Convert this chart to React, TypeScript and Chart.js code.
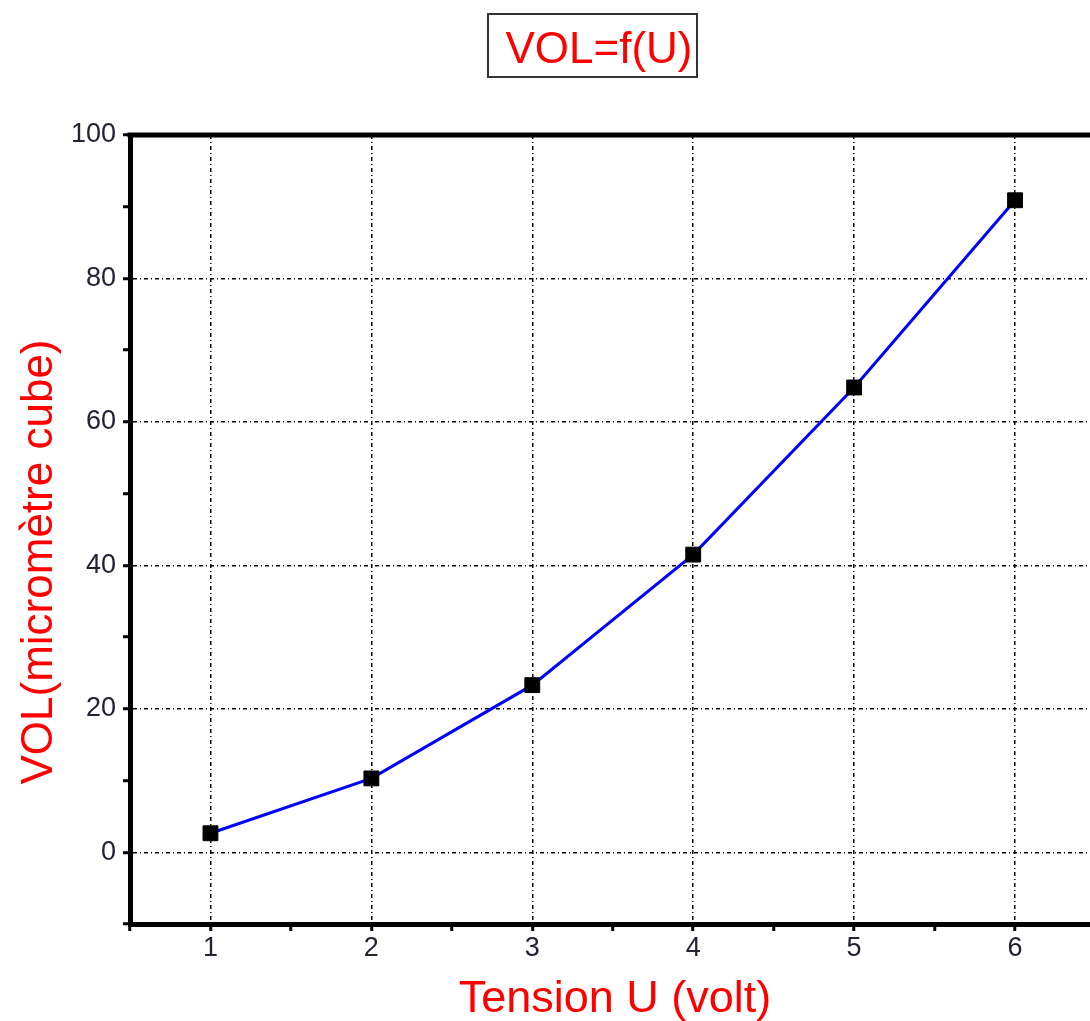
import React, { useEffect, useRef } from "react";
import { Chart, registerables } from "chart.js";

Chart.register(...registerables);

const tensionU = [1, 2, 3, 4, 5, 6];
const volume = [2.65, 10.3, 23.3, 41.5, 64.8, 90.9];
const xTickLabels = ["1", "2", "3", "4", "5", "6"];
const yTickLabels = ["0", "20", "40", "60", "80", "100"];
const chartTitle = "VOL=f(U)";
const xTitle = "Tension U (volt)";
const yTitle = "VOL(micromètre cube)";

const FONT = '"Liberation Sans", Arial, sans-serif';
const LABEL_COLOR = "#222233";
const DASH = [4, 3, 1, 3];

const decorPlugin = {
  id: "decor",
  afterDraw(chart: any) {
    const { ctx, chartArea } = chart;
    ctx.save();
    // top & right frame
    ctx.strokeStyle = "#000";
    ctx.lineWidth = 5;
    ctx.beginPath();
    ctx.moveTo(chartArea.left - 2.5, chartArea.top);
    ctx.lineTo(chartArea.right, chartArea.top);
    ctx.lineTo(chartArea.right, chartArea.bottom);
    ctx.stroke();

    // boxed title
    ctx.fillStyle = "#ff0000";
    ctx.font = `44px ${FONT}`;
    ctx.textAlign = "center";
    ctx.textBaseline = "alphabetic";
    ctx.fillText(chartTitle, 599, 63);
    ctx.strokeStyle = "#333";
    ctx.lineWidth = 2;
    ctx.strokeRect(488, 14, 209, 63);

    // x title
    ctx.font = `45px ${FONT}`;
    ctx.fillText(xTitle, 615, 1012);

    // y title
    ctx.font = `44px ${FONT}`;
    ctx.translate(52, 562);
    ctx.rotate(-Math.PI / 2);
    ctx.fillText(yTitle, 0, 0);
    ctx.restore();
  },
};

export default function App() {
  const ref = useRef<HTMLCanvasElement>(null);

  useEffect(() => {
    if (!ref.current) return;
    const chart = new Chart(ref.current, {
      type: "line",
      data: {
        datasets: [
          {
            data: tensionU.map((u, i) => ({ x: u, y: volume[i] })),
            borderColor: "#0000ff",
            borderWidth: 3,
            tension: 0,
            pointStyle: "rect",
            pointRadius: 10.5,
            pointHoverRadius: 10.5,
            pointBackgroundColor: "#000",
            pointBorderColor: "#000",
            pointBorderWidth: 1,
            fill: false,
          },
        ],
      },
      options: {
        animation: false,
        responsive: false,
        devicePixelRatio: 1,
        events: [],
        layout: { padding: { top: 135, left: 0, right: 4.5, bottom: 0 } },
        plugins: { legend: { display: false }, title: { display: false }, tooltip: { enabled: false } },
        scales: {
          x: {
            type: "linear",
            min: 0.5,
            max: 6.5,
            afterFit: (s: any) => {
              s.height = 97;
            },
            ticks: {
              stepSize: 0.5,
              autoSkip: false,
              maxRotation: 0,
              padding: 1,
              color: LABEL_COLOR,
              font: { family: FONT, size: 27 },
              callback: (v: any) => {
                const idx = tensionU.indexOf(Number(v));
                return idx >= 0 ? xTickLabels[idx] : "";
              },
            },
            grid: {
              color: (c: any) => {
                const v = c.tick ? c.tick.value : 0;
                return Number.isInteger(v) && v > 0.5 && v < 6.5 ? "#000" : "rgba(0,0,0,0)";
              },
              lineWidth: 1.5,
              tickColor: "#000",
              tickLength: 7,
              tickWidth: 3,
              drawTicks: true,
            },
            border: { display: true, color: "#000", width: 5, dash: DASH },
          },
          y: {
            type: "linear",
            min: -10,
            max: 100,
            afterFit: (s: any) => {
              s.width = 130;
            },
            ticks: {
              stepSize: 10,
              autoSkip: false,
              padding: 7,
              color: LABEL_COLOR,
              font: { family: FONT, size: 27 },
              callback: (v: any) => {
                const idx = yTickLabels.indexOf(String(v));
                return idx >= 0 ? yTickLabels[idx] : "";
              },
            },
            grid: {
              color: (c: any) => {
                const v = c.tick ? c.tick.value : 0;
                return v % 20 === 0 && v >= 0 && v < 100 ? "#000" : "rgba(0,0,0,0)";
              },
              lineWidth: 1.5,
              tickColor: "#000",
              tickLength: 7,
              tickWidth: 3,
              drawTicks: true,
            },
            border: { display: true, color: "#000", width: 5, dash: DASH },
          },
        },
      },
      plugins: [decorPlugin],
    } as any);
    return () => chart.destroy();
  }, []);

  return (
    <div
      style={{
        position: "fixed",
        left: 0,
        top: 0,
        width: 1090,
        height: 1021,
        overflow: "hidden",
        background: "#fff",
      }}
    >
      <canvas ref={ref} width={1107} height={1021} style={{ display: "block", width: 1107, height: 1021 }} />
    </div>
  );
}
